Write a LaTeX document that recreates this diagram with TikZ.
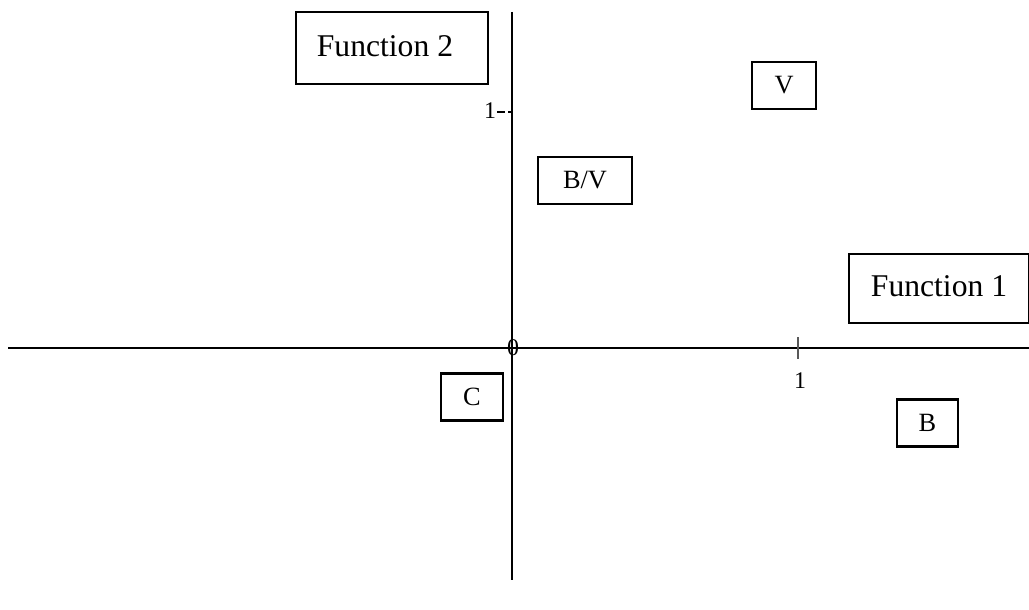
\documentclass[tikz,border=0pt]{standalone}
\usepackage{fontspec}
\setmainfont{Liberation Serif}
\usetikzlibrary{calc}
\usepackage{xcolor}

\tikzset{
  labelbox/.style={draw, line width=0.6pt, inner sep=0pt, font=\fontsize{9}{10}\selectfont},
  letterbox/.style={draw, line width=0.6pt, inner sep=0pt, font=\fontsize{7.5}{9}\selectfont},
  ticklabel/.style={inner sep=0pt, font=\fontsize{6.8}{7}\selectfont}
}

\begin{document}
\begin{tikzpicture}

        \useasboundingbox (0,0) rectangle (10.29,6.09);

        % Axis
        \coordinate (O) at (5.12,2.61);
        \draw[line width=0.6pt] (0.08,2.61) -- (10.29,2.61);
        \draw[line width=0.6pt] (5.12,5.97) -- (5.12,0.29);
        \node[ticklabel] (zero) at (5.13,2.61) {0};

        % X axis
        \coordinate (A1) at (7.98,2.61);
        \draw[gray!70!black, line width=0.4pt] ($(A1)+(0,0.11)$) -- ($(A1)-(0,0.11)$);
        \node[ticklabel] (xone) at ($(A1)+(0.02,-0.33)$) {1};

        % Y Axis
        \coordinate (B1) at (5.12,4.97);
        \draw[line width=0.5pt, dash pattern=on 2.2pt off 1pt] ($(B1)-(0.15,0)$) -- (B1);
        \node[ticklabel] (yone) at ($(B1)+(-0.22,0.01)$) {1};

        % Function boxes
        \node[labelbox, minimum width=1.92cm, minimum height=0.72cm] (fn2) at (3.92,5.61) {\raisebox{1.2pt}{Function 2\hspace{4pt}}};
        \node[labelbox, minimum width=1.80cm, minimum height=0.69cm] (fn1) at (9.39,3.205) {\raisebox{1.2pt}{Function 1}};

        % Group boxes
        \foreach \name/\txt/\x/\y/\w in {v/V/7.84/5.235/0.64, bv/B\slash V/5.85/4.285/0.94, c/C/4.72/2.12/0.62, b/B/9.275/1.86/0.61}
        {
          \node[letterbox, minimum width=\w cm, minimum height=0.47cm] (\name) at (\x,\y) {\txt};
        }

    \end{tikzpicture}
\end{document}
